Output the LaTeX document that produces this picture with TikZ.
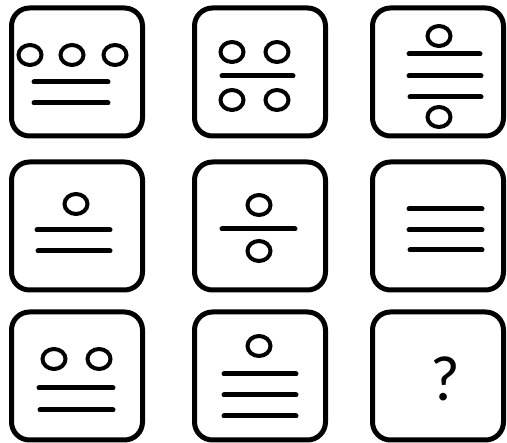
\documentclass[tikz,border=0pt]{standalone}
\usepackage{fontspec}
\newfontfamily\tilefont{Carlito}
\usetikzlibrary{shapes.geometric}

\begin{document}
\begin{tikzpicture}[
  x=1pt, y=-1pt,
  tile/.style={draw=black, line width=5pt, rounded corners=18pt,
    minimum width=131pt, minimum height=128pt, inner sep=0pt},
  ring/.style={draw=black, line width=4pt, ellipse, inner sep=0pt,
    minimum width=23pt, minimum height=20pt},
  bar/.style={line width=5pt, line cap=round, draw=black},
  qmark/.style={font=\tilefont\fontsize{64}{70}\selectfont, text=black}
]

\useasboundingbox (0,0) rectangle (507,443);
\fill[white] (0,0) rectangle (507,443);

% row 1
\node[tile] (t1) at (77,72) {};
\node[ring] (t1a) at (30,55) {};
\node[ring] (t1b) at (72,55) {};
\node[ring] (t1c) at (115,55) {};
\draw[bar] (34,82) -- (108,82);
\draw[bar] (34,103) -- (108,103);

\node[tile] (t2) at (260,72) {};
\node[ring] (t2a) at (232,52) {};
\node[ring] (t2b) at (277,52) {};
\node[ring] (t2c) at (232,100) {};
\node[ring] (t2d) at (277,100) {};
\draw[bar] (222,76) -- (293,76);

\node[tile] (t3) at (438,72) {};
\node[ring] (t3a) at (439,36) {};
\node[ring] (t3b) at (439,117) {};
\draw[bar] (409,54) -- (480,54);
\draw[bar] (409,76) -- (481,76);
\draw[bar] (410,97) -- (481,97);

% row 2
\node[tile] (t4) at (77,226) {};
\node[ring] (t4a) at (76,204) {};
\draw[bar] (37,230) -- (110,230);
\draw[bar] (38,251) -- (110,251);

\node[tile] (t5) at (260,226) {};
\node[ring] (t5a) at (259,205) {};
\node[ring] (t5b) at (259,251) {};
\draw[bar] (222,229) -- (295,229);

\node[tile] (t6) at (438,226) {};
\draw[bar] (409,209) -- (482,209);
\draw[bar] (409,230) -- (482,230);
\draw[bar] (410,250) -- (482,250);

% row 3
\node[tile] (t7) at (77,376) {};
\node[ring] (t7a) at (54,359) {};
\node[ring] (t7b) at (99,359) {};
\draw[bar] (39,388) -- (113,388);
\draw[bar] (40,410) -- (113,410);

\node[tile] (t8) at (260,376) {};
\node[ring] (t8a) at (259,346) {};
\draw[bar] (224,374) -- (296,374);
\draw[bar] (224,395) -- (296,395);
\draw[bar] (224,416) -- (296,416);

\node[tile] (t9) at (438,376) {};
\node[qmark] (q) at (445,379) {?};

\end{tikzpicture}
\end{document}
